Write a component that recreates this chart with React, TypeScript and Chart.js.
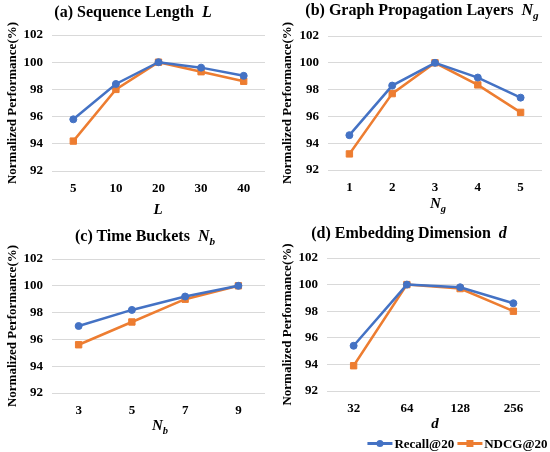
import React, { useEffect, useRef } from 'react';
import { Chart, registerables } from 'chart.js';

Chart.register(...registerables);

const BLUE = '#4472C4';
const ORANGE = '#ED7D31';
const FONT = '"Liberation Serif", "Times New Roman", serif';

// panel (a) sequence length L
const seqLabels = ['5', '10', '20', '30', '40'];
const seqRecall = [95.8, 98.4, 100, 99.6, 99.0];
const seqNdcg = [94.2, 98.0, 100, 99.3, 98.6];

// panel (b) graph propagation layers Ng
const layerLabels = ['1', '2', '3', '4', '5'];
const layerRecall = [94.6, 98.3, 100, 98.9, 97.4];
const layerNdcg = [93.2, 97.7, 100, 98.35, 96.3];

// panel (c) time buckets Nb
const bucketLabels = ['3', '5', '7', '9'];
const bucketRecall = [97.0, 98.2, 99.2, 100];
const bucketNdcg = [95.6, 97.3, 99.0, 100];

// panel (d) embedding dimension d
const dimLabels = ['32', '64', '128', '256'];
const dimRecall = [95.4, 100, 99.8, 98.6];
const dimNdcg = [93.9, 100, 99.7, 98.0];

const yTicks = [92, 94, 96, 98, 100, 102];
const seriesNames = ['Recall@20', 'NDCG@20'];

type Box = { left: number; right: number; top: number; bottom: number };

const W = 275;
const H = 226;

const Panel = ({ labels, recall, ndcg, box }: { labels: string[]; recall: number[]; ndcg: number[]; box: Box }) => {
    const canvasRef = useRef<HTMLCanvasElement | null>(null);
    const chartRef = useRef<Chart | null>(null);

    useEffect(() => {
        if (!canvasRef.current) return;
        if (chartRef.current) chartRef.current.destroy();

        const padLeft = 5;
        chartRef.current = new Chart(canvasRef.current, {
            type: 'line',
            data: {
                labels,
                datasets: [
                    {
                        label: seriesNames[0],
                        data: recall,
                        borderColor: BLUE,
                        backgroundColor: BLUE,
                        borderWidth: 2.5,
                        pointStyle: 'circle',
                        pointRadius: 3.5,
                        pointBorderWidth: 1,
                        fill: false,
                    },
                    {
                        label: seriesNames[1],
                        data: ndcg,
                        borderColor: ORANGE,
                        backgroundColor: ORANGE,
                        borderWidth: 2.5,
                        pointStyle: 'rect',
                        pointRadius: 4.5,
                        pointBorderWidth: 1,
                        fill: false,
                    },
                ],
            },
            options: {
                animation: false,
                responsive: false,
                maintainAspectRatio: false,
                layout: { padding: { left: padLeft, right: W - box.right, top: box.top, bottom: 0 } },
                scales: {
                    x: {
                        offset: true,
                        grid: { display: false, drawTicks: false },
                        border: { display: false },
                        ticks: {
                            padding: 10,
                            color: '#000',
                            font: { family: FONT, size: 13, weight: 'bold' },
                        },
                        afterFit: (scale: any) => {
                            scale.height = H - box.bottom;
                        },
                    },
                    y: {
                        min: 92,
                        max: 102,
                        afterBuildTicks: (scale: any) => {
                            scale.ticks = yTicks.map((v) => ({ value: v }));
                        },
                        grid: { color: '#d9d9d9', lineWidth: 1, drawTicks: false },
                        border: { display: false },
                        ticks: {
                            padding: 9,
                            color: '#000',
                            font: { family: FONT, size: 13, weight: 'bold' },
                        },
                        title: {
                            display: true,
                            text: 'Normalized Performance(%)',
                            color: '#000',
                            padding: 0,
                            font: { family: FONT, size: 13, weight: 'bold' },
                        },
                        afterFit: (scale: any) => {
                            scale.width = box.left - padLeft;
                        },
                    },
                },
                plugins: {
                    legend: { display: false },
                    tooltip: { enabled: false },
                },
            },
        });

        return () => {
            if (chartRef.current) {
                chartRef.current.destroy();
                chartRef.current = null;
            }
        };
    }, []);

    return <canvas ref={canvasRef} width={W} height={H} style={{ width: W, height: H, display: 'block' }} />;
};

const abs = (x: number, y: number, extra: React.CSSProperties = {}): React.CSSProperties => ({
    position: 'absolute',
    left: x,
    top: y,
    transform: 'translate(-50%, -50%)',
    whiteSpace: 'nowrap',
    fontFamily: FONT,
    fontWeight: 'bold',
    color: '#000',
    lineHeight: 1,
    ...extra,
});

const titleSize = 16;

const LegendItem = ({ color, square, text }: { color: string; square: boolean; text: string }) => (
    <span style={{ display: 'inline-flex', alignItems: 'center', marginLeft: 3 }}>
        <span style={{ position: 'relative', width: 25, height: 3, background: color, display: 'inline-block' }}>
            <span
                style={{
                    position: 'absolute',
                    left: 9,
                    top: -2,
                    width: 7,
                    height: 7,
                    background: color,
                    borderRadius: square ? 0 : '50%',
                }}
            />
        </span>
        <span style={{ marginLeft: 2, fontSize: 13 }}>{text}</span>
    </span>
);

const App = () => {
    return (
        <div style={{ position: 'absolute', left: 0, top: 0, width: 550, height: 452, background: '#fff', overflow: 'hidden' }}>
            <div style={{ position: 'absolute', left: 0, top: 0 }}>
                <Panel labels={seqLabels} recall={seqRecall} ndcg={seqNdcg} box={{ left: 52, right: 265, top: 35, bottom: 171 }} />
            </div>
            <div style={{ position: 'absolute', left: 275, top: 0 }}>
                <Panel labels={layerLabels} recall={layerRecall} ndcg={layerNdcg} box={{ left: 53, right: 267, top: 36, bottom: 170 }} />
            </div>
            <div style={{ position: 'absolute', left: 0, top: 226 }}>
                <Panel labels={bucketLabels} recall={bucketRecall} ndcg={bucketNdcg} box={{ left: 52, right: 265, top: 33, bottom: 167 }} />
            </div>
            <div style={{ position: 'absolute', left: 275, top: 226 }}>
                <Panel labels={dimLabels} recall={dimRecall} ndcg={dimNdcg} box={{ left: 52, right: 265, top: 32, bottom: 165 }} />
            </div>

            <div style={abs(133, 12, { fontSize: titleSize })}>
                (a) Sequence Length&nbsp;&nbsp;<i>L</i>
            </div>
            <div style={abs(422, 12, { fontSize: titleSize })}>
                (b) Graph Propagation Layers&nbsp;&nbsp;<i>N<sub style={{ fontSize: '0.7em' }}>g</sub></i>
            </div>
            <div style={abs(145, 238, { fontSize: titleSize })}>
                (c) Time Buckets&nbsp;&nbsp;<i>N<sub style={{ fontSize: '0.7em' }}>b</sub></i>
            </div>
            <div style={abs(409, 233, { fontSize: titleSize })}>
                (d) Embedding Dimension&nbsp;&nbsp;<i>d</i>
            </div>

            <div style={abs(158, 209, { fontSize: 15 })}>
                <i>L</i>
            </div>
            <div style={abs(438, 205, { fontSize: 15 })}>
                <i>N<sub style={{ fontSize: '0.7em' }}>g</sub></i>
            </div>
            <div style={abs(160, 427, { fontSize: 15 })}>
                <i>N<sub style={{ fontSize: '0.7em' }}>b</sub></i>
            </div>
            <div style={abs(435, 423, { fontSize: 15 })}>
                <i>d</i>
            </div>

            <div style={abs(456, 441, {})}>
                <LegendItem color={BLUE} square={false} text={seriesNames[0]} />
                <LegendItem color={ORANGE} square={true} text={seriesNames[1]} />
            </div>
        </div>
    );
};

export default App;
